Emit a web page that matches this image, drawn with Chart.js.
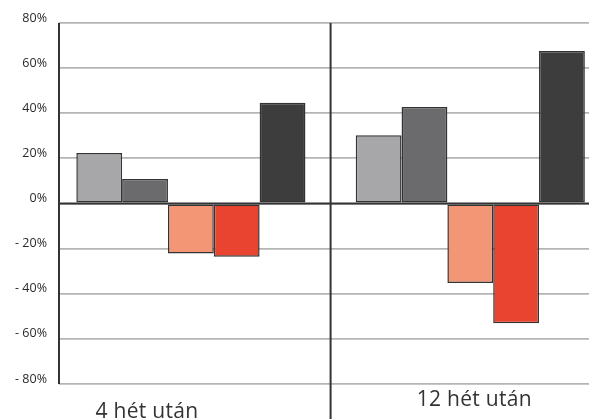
<!DOCTYPE html>
<html>
<head>
<meta charset="utf-8">
<script src="https://cdn.jsdelivr.net/npm/chart.js@4"></script>
<style>
  html, body { margin: 0; padding: 0; background: #fff; overflow: hidden; }
  #wrap { position: relative; width: 610px; height: 419px; }
</style>
</head>
<body>
<div id="wrap"><canvas id="c"></canvas></div>
<script>
  // ── Data ───────────────────────────────────────────────────────────
  const CATEGORIES = ['4 hét után', '12 hét után'];
  const SERIES_A = [22.4, 30.3];    // light grey
  const SERIES_B = [10.9, 42.8];    // mid grey
  const SERIES_C = [-22.2, -35.2];  // salmon
  const SERIES_D = [-23.6, -53.1];  // red
  const SERIES_E = [44.6, 67.6];    // dark grey
  const Y_TICKS = [-80, -60, -40, -20, 0, 20, 40, 60, 80];

  const COLORS = ['#a7a7aa', '#6b6b6e', '#f39676', '#e84430', '#3d3d3d'];
  const FONT = '"Open Sans", "DejaVu Sans", sans-serif';

  // Category labels sit a bit off the group centre in the source
  const LABEL_STYLE = [
    { dx: -44, y: 418 },
    { dx: 4,   y: 406 },
  ];

  const toPts = arr => arr.map((v, i) => ({ x: i, y: v }));

  const datasets = [SERIES_A, SERIES_B, SERIES_C, SERIES_D, SERIES_E].map((s, i) => ({
    data: toPts(s),
    backgroundColor: COLORS[i],
    borderColor: '#333',
    borderWidth: 1.5,
    borderSkipped: false,
    barPercentage: 1,
    categoryPercentage: 0.82,
  }));

  // ── Decorations: y axis line, group divider, category labels ───────
  const decor = {
    id: 'decor',
    afterDatasetsDraw(chart) {
      const { ctx, chartArea: a, scales: { x, y } } = chart;
      ctx.save();
      ctx.strokeStyle = '#333';
      ctx.lineWidth = 2;
      // zero line over the bars' base
      ctx.beginPath();
      ctx.moveTo(a.left, y.getPixelForValue(0));
      ctx.lineTo(a.right, y.getPixelForValue(0));
      ctx.stroke();
      // left axis
      ctx.beginPath();
      ctx.moveTo(a.left, a.top);
      ctx.lineTo(a.left, a.bottom);
      ctx.stroke();
      // divider between groups
      const mid = x.getPixelForValue(0.5);
      ctx.beginPath();
      ctx.moveTo(mid, a.top);
      ctx.lineTo(mid, chart.height);
      ctx.stroke();
      // category labels
      ctx.fillStyle = '#333';
      ctx.font = '21px ' + FONT;
      ctx.letterSpacing = '0.3px';
      ctx.textAlign = 'center';
      ctx.textBaseline = 'alphabetic';
      CATEGORIES.forEach((c, i) => {
        ctx.fillText(c, x.getPixelForValue(i) + LABEL_STYLE[i].dx, LABEL_STYLE[i].y);
      });
      ctx.restore();
    },
  };

  new Chart(document.getElementById('c'), {
    type: 'bar',
    data: { datasets },
    options: {
      responsive: true,
      maintainAspectRatio: false,
      animation: false,
      layout: { padding: { top: 23, bottom: 35, left: 0, right: 0 } },
      plugins: { legend: { display: false }, tooltip: { enabled: false } },
      scales: {
        x: {
          type: 'linear',
          display: false,
          offset: false,
          min: -0.472,
          max: 1.5,
          afterBuildTicks: s => { s.ticks = [{ value: 0 }, { value: 1 }]; },
        },
        y: {
          min: -80,
          max: 80,
          afterFit: s => { s.width = 59; },
          afterBuildTicks: s => { s.ticks = Y_TICKS.map(v => ({ value: v })); },
          border: { display: false },
          grid: {
            drawTicks: false,
            color: '#b4b4b4',
            lineWidth: 1.8,
          },
          ticks: {
            padding: 12,
            labelOffset: -5,
            color: '#2b2b2b',
            font: { family: FONT, size: 12.5 },
            callback: v => (v < 0 ? '- ' + Math.abs(v) : v) + '%',
          },
        },
      },
    },
    plugins: [decor],
  });
</script>
</body>
</html>
